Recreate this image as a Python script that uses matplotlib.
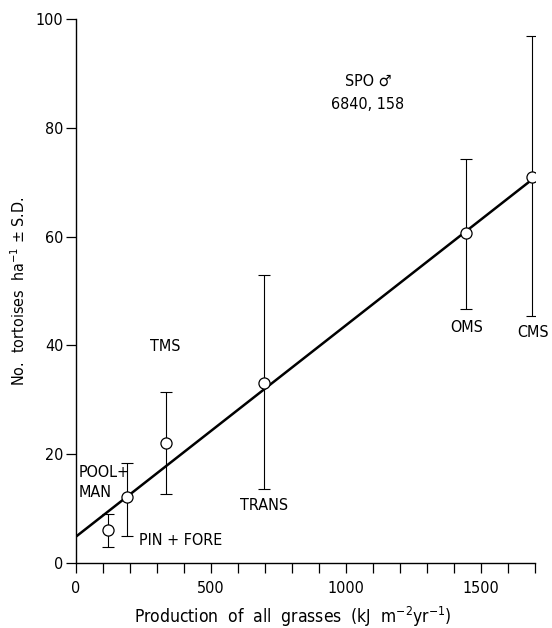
import numpy as np
import matplotlib
matplotlib.use("Agg")
import matplotlib.pyplot as plt
from matplotlib.ticker import MultipleLocator

# site data: grass production vs tortoise density (mean, lower and upper S.D. limits)
sites = ["PIN+FORE", "POOL+MAN", "TMS", "TRANS", "OMS", "CMS"]
production = [120, 190, 335, 695, 1445, 1690]
density = [6.0, 12.0, 22.0, 33.0, 60.7, 71.0]
sd_low = [2.8, 4.9, 12.7, 13.6, 46.6, 45.4]
sd_high = [8.9, 18.4, 31.5, 52.9, 74.3, 96.9]

# fitted regression
intercept = 4.8
slope = 0.0389

plt.rcParams['font.family'] = ['DejaVu Sans']
plt.rcParams['font.stretch'] = 'condensed'

fig = plt.figure(figsize=(5.52, 6.28), dpi=100)
ax = fig.add_axes([0.1377, 0.104, 0.8315, 0.8653])

x = np.array(production)
y = np.array(density)
yerr = np.array([y - np.array(sd_low), np.array(sd_high) - y])

# regression line from origin to last site
xl = np.array([0, production[-1]])
ax.plot(xl, intercept + slope * xl, color='k', lw=1.8, zorder=2)

ax.errorbar(x, y, yerr=yerr, fmt='none', ecolor='k', elinewidth=0.8,
            capsize=4.5, capthick=0.8, zorder=1)
ax.plot(x, y, 'o', ms=8, mfc='white', mec='k', mew=0.9, zorder=3)

# site labels
fs = 11.5
ax.text(1446, 43.2, "OMS", ha='center', va='center', fontsize=fs)
ax.text(1694, 42.3, "CMS", ha='center', va='center', fontsize=fs)
ax.text(698, 10.6, "TRANS", ha='center', va='center', fontsize=fs)
ax.text(330, 39.7, "TMS", ha='center', va='center', fontsize=fs)
ax.text(11, 16.6, "POOL+", ha='left', va='center', fontsize=fs)
ax.text(11, 12.9, "MAN", ha='left', va='center', fontsize=fs)
ax.text(233, 4.0, "PIN + FORE", ha='left', va='center', fontsize=fs)
ax.text(1081, 88.6, "SPO \u2642", ha='center', va='center', fontsize=fs)
ax.text(1081, 84.3, "6840, 158", ha='center', va='center', fontsize=fs)

ax.set_xlim(0, 1700)
ax.set_ylim(0, 100)
ax.spines['top'].set_visible(False)
ax.spines['right'].set_visible(False)
ax.spines['left'].set_linewidth(1.0)
ax.spines['bottom'].set_linewidth(1.0)

ax.xaxis.set_major_locator(MultipleLocator(500))
ax.xaxis.set_minor_locator(MultipleLocator(100))
ax.yaxis.set_major_locator(MultipleLocator(20))
ax.tick_params(axis='x', which='both', direction='out', length=7, width=0.9,
               labelsize=fs, pad=6)
ax.tick_params(axis='y', which='major', direction='out', length=7, width=0.9,
               labelsize=fs, pad=2)

ax.set_xlabel("Production  of  all  grasses  (kJ  m$^{-2}$yr$^{-1}$)", fontsize=12.5,
              labelpad=6)
ax.xaxis.set_label_coords(0.472, -0.077)
ax.set_ylabel("No.  tortoises  ha$^{-1}$ $\\pm$ S.D.", fontsize=fs, labelpad=6)

fig.savefig("out.png", dpi=100)
